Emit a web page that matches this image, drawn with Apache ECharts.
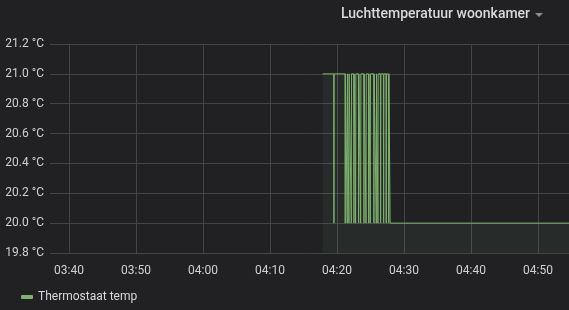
<!DOCTYPE html>
<html>
<head>
<meta charset="utf-8">
<script src="https://cdn.jsdelivr.net/npm/echarts@6/dist/echarts.min.js"></script>
<style>
html,body{margin:0;padding:0;background:#212124;}
#chart{width:569px;height:310px;}
</style>
</head>
<body>
<div id="chart"></div>
<script>
// ---- data ----
var panelTitle = 'Luchttemperatuur woonkamer';
var seriesName = 'Thermostaat temp';
var axisMin = '03:37:10';
var axisMax = '04:54:38';
var xTickLabels = ['03:40','03:50','04:00','04:10','04:20','04:30','04:40','04:50'];
var yTicks = [19.8, 20.0, 20.2, 20.4, 20.6, 20.8, 21.0, 21.2];

var times = [
  '04:17:52',
  '04:19:31','04:19:33','04:19:35', // 1
  '04:21:12','04:21:14','04:21:16', // 2
  '04:21:30','04:21:32','04:21:34', // 3
  '04:21:45','04:21:47','04:21:49', // 4
  '04:22:06','04:22:08','04:22:10', // 5
  '04:22:30','04:22:32','04:22:34', // 6
  '04:22:45','04:22:47','04:22:49', // 7
  '04:23:12','04:23:14','04:23:16', // 8
  '04:23:30','04:23:32','04:23:34', // 9
  '04:24:00','04:24:02','04:24:04', // 10
  '04:24:18','04:24:20','04:24:22', // 11
  '04:24:42','04:24:44','04:24:46', // 12
  '04:24:56','04:24:58','04:25:00', // 13
  '04:25:29','04:25:31','04:25:33', // 14
  '04:25:50','04:25:52','04:25:54', // 15
  '04:26:05','04:26:07','04:26:09', // 16
  '04:26:29','04:26:31','04:26:33', // 17
  '04:26:56','04:26:58','04:27:00', // 18
  '04:27:19','04:27:21','04:27:23', // 19
  '04:27:41','04:27:43','04:27:45', // 20
  '04:27:54','04:27:56',
  '04:40:00',
  '04:55:00'
];
var temps = [
  21.0,
  21.0,20.0,21.0, // 1
  21.0,20.0,21.0, // 2
  21.0,20.0,21.0, // 3
  21.0,20.0,21.0, // 4
  21.0,20.0,21.0, // 5
  21.0,20.0,21.0, // 6
  21.0,20.0,21.0, // 7
  21.0,20.0,21.0, // 8
  21.0,20.0,21.0, // 9
  21.0,20.0,21.0, // 10
  21.0,20.0,21.0, // 11
  21.0,20.0,21.0, // 12
  21.0,20.0,21.0, // 13
  21.0,20.0,21.0, // 14
  21.0,20.0,21.0, // 15
  21.0,20.0,21.0, // 16
  21.0,20.0,21.0, // 17
  21.0,20.0,21.0, // 18
  21.0,20.0,21.0, // 19
  21.0,20.0,21.0, // 20
  21.0,20.0,
  20.0,
  20.0
];

function ts(s){
  var p = s.split(':').map(Number);
  return new Date(2019, 0, 1, p[0], p[1], p[2] || 0).getTime();
}
var seriesData = times.map(function(t, i){ return [ts(t), temps[i]]; });
var xTickValues = xTickLabels.map(ts);

var chart = echarts.init(document.getElementById('chart'), null, {renderer: 'canvas'});
var fontFam = 'Roboto, "Noto Sans", sans-serif';
function pad(n){ return (n < 10 ? '0' : '') + n; }
chart.setOption({
  backgroundColor: '#212124',
  animation: false,
  textStyle: {fontFamily: fontFam},
  graphic: [
    {type: 'text', left: 341, top: 7,
     style: {text: panelTitle, fill: '#d8d9da', font: '500 14px ' + fontFam}},
    {type: 'polygon', shape: {points: [[535, 13], [543, 13], [539, 17]]},
     style: {fill: '#8e8e8e'}}
  ],
  grid: {left: 50, right: 0, top: 44, bottom: 57, containLabel: false},
  legend: {
    left: 16, top: 286, icon: 'roundRect', itemWidth: 12, itemHeight: 4, itemGap: 10,
    textStyle: {color: '#d8d9da', fontSize: 12, fontFamily: fontFam},
    data: [seriesName]
  },
  xAxis: {
    type: 'value',
    min: ts(axisMin), max: ts(axisMax),
    axisLine: {show: false},
    axisTick: {show: false, customValues: xTickValues},
    axisLabel: {color: '#cfd0d1', fontSize: 12, fontFamily: fontFam, margin: 12,
      customValues: xTickValues,
      formatter: function(v){ var d = new Date(v); return pad(d.getHours()) + ':' + pad(d.getMinutes()); }},
    splitLine: {show: true, lineStyle: {color: '#444447', width: 1}}
  },
  yAxis: {
    type: 'value',
    min: yTicks[0], max: yTicks[yTicks.length - 1], interval: 0.2,
    axisLine: {show: false},
    axisTick: {show: false},
    axisLabel: {color: '#cfd0d1', fontSize: 12, fontFamily: fontFam, margin: 6,
      formatter: function(v){ return v.toFixed(1) + ' °C'; }},
    splitLine: {show: true, lineStyle: {color: '#444447', width: 1}}
  },
  series: [{
    name: seriesName,
    type: 'line',
    data: seriesData,
    showSymbol: false,
    symbol: 'none',
    clip: true,
    lineStyle: {color: '#7eb26d', width: 1},
    itemStyle: {color: '#7eb26d'},
    areaStyle: {color: 'rgba(126,178,109,0.1)', origin: 'start'}
  }]
});
</script>
</body>
</html>
